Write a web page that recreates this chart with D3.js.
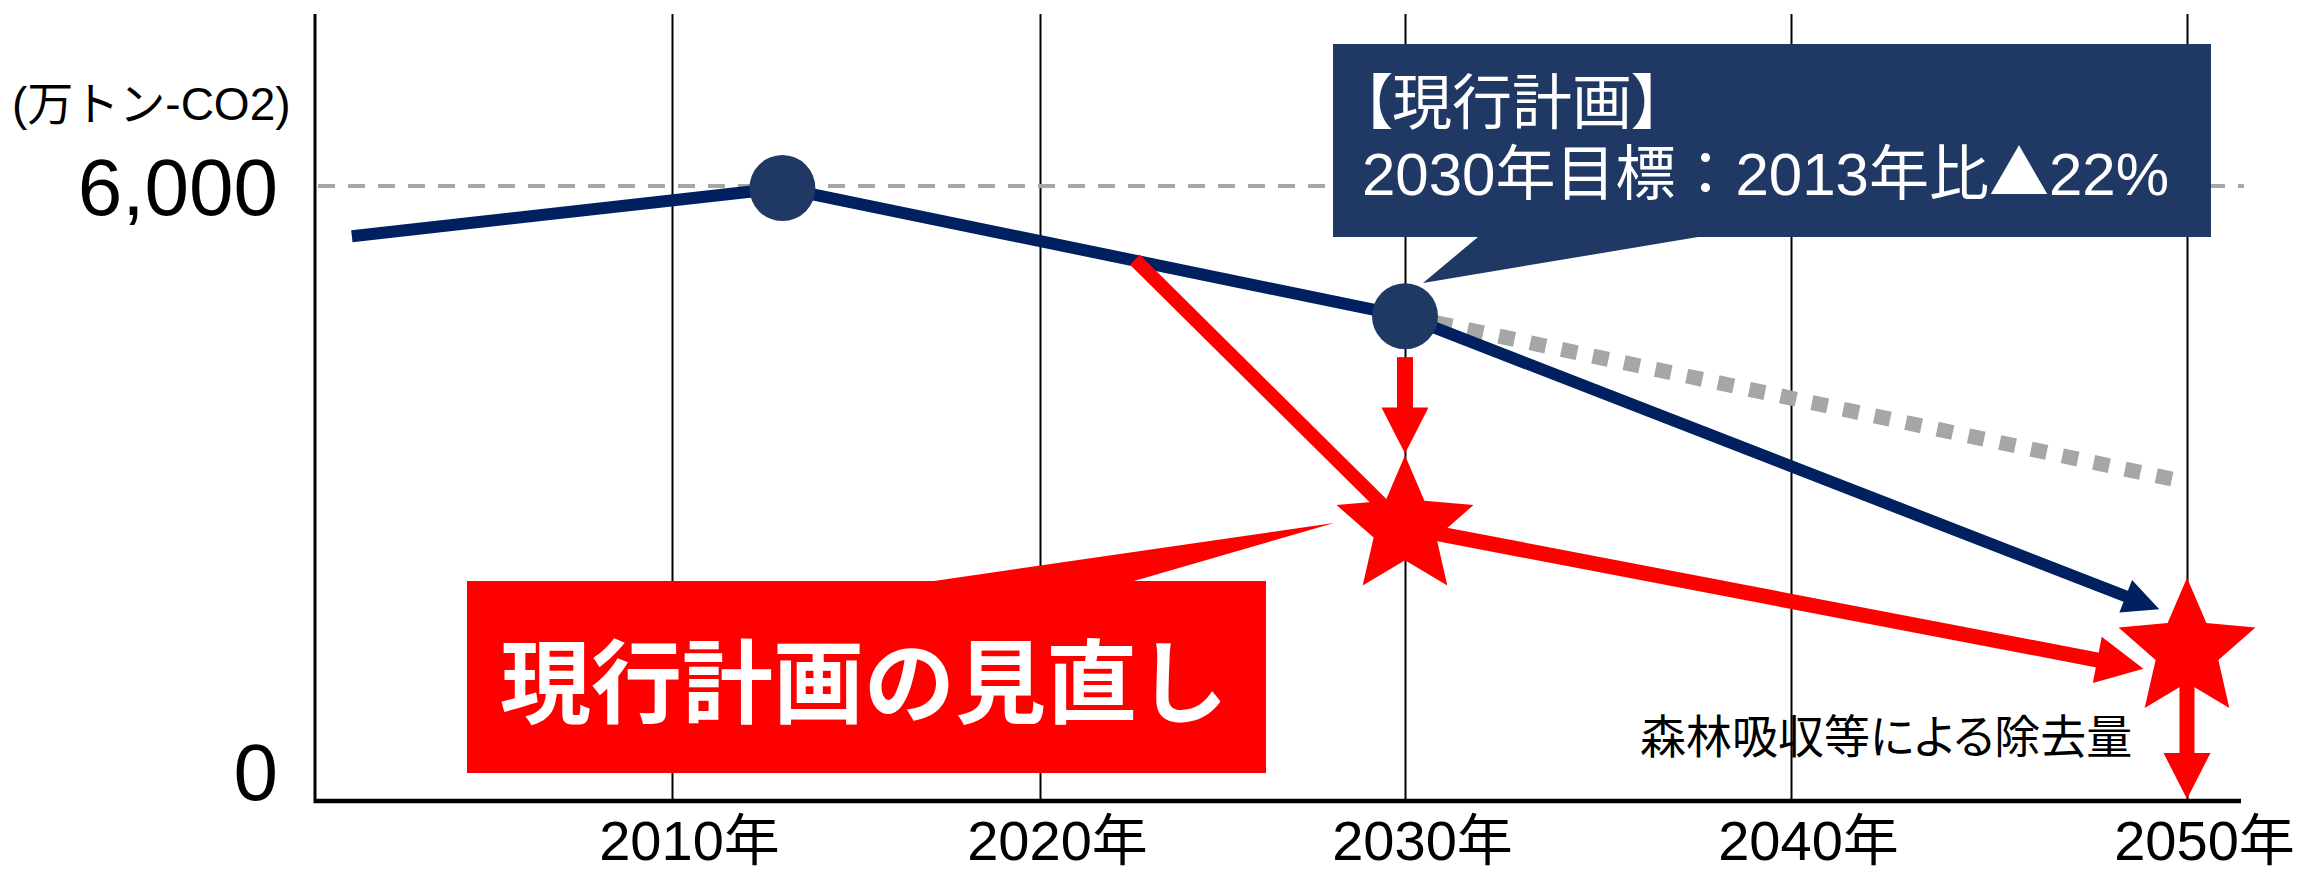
<!DOCTYPE html>
<html>
<head>
<meta charset="utf-8">
<script src="https://cdn.jsdelivr.net/npm/d3@7"></script>
<style>
  body { margin: 0; background: #fff; }
  text { font-family: "Liberation Sans", "Noto Sans CJK JP", sans-serif; }
</style>
</head>
<body>
<svg id="chart" width="2305" height="873"></svg>
<script>
/* global d3 */

// axis
var years = [2010, 2020, 2030, 2040, 2050]
var yTicks = [0, 6000]
var unitLabel = '(万トン-CO2)'

// current plan (navy line): start, 2013 peak, 2030 target, then arrow towards 2050
var planYears = [2001.3, 2013, 2030]
var planValues = [5510, 5980, 4730]
var planEnd = [2049.3, 1870]
var markerYears = [2013, 2030]

// old trend (grey dots) from the 2030 target
var trendYears = [2030, 2050]
var trendValues = [4730, 3110]

// revision (red)
var reviseStart = [2022.6, 5280]
var starYears = [2030, 2050]
var starValues = [2670, 1475]
var reviseEnd = [2048.9, 1290]
var dropArrow = [2030, 4330, 3390] // year, from, to
var sinkArrow = [2050, 1475, 0]

var planNote = ['【現行計画】', '2030年目標：2013年比▲22%']
var reviseNote = '現行計画の見直し'
var sinkNote = '森林吸収等による除去量'

var NAVY = '#002060'
var NAVY2 = '#203864'
var RED = '#ff0000'
var GREY = '#a6a6a6'

var svg = d3.select('#chart')

var plotTop = 14
var plotLeft = 315
var plotRight = 2241

var x = d3.scaleLinear().domain(years).range([672, 1040, 1405, 1791, 2187])
var y = d3.scaleLinear().domain([0, 6000]).range([801, 186])

/*
    --------------------------------------
    grid + axes
*/
var xAxis = svg.append('g')
  .attr('transform', `translate(0,${y(0)})`)
  .call(d3.axisBottom(x)
    .tickValues(years)
    .tickSize(-(y(0) - plotTop))
    .tickFormat(d => d + '年'))

xAxis.select('.domain').remove()
xAxis.selectAll('.tick line').attr('stroke', '#000').attr('stroke-width', 2)
xAxis.selectAll('.tick text')
  .attr('y', 59)
  .attr('dy', 0)
  .attr('x', 17)
  .attr('fill', '#000')
  .style('font-size', '56px')

var yAxis = svg.append('g')
  .attr('transform', `translate(${plotLeft},0)`)
  .call(d3.axisLeft(y)
    .tickValues(yTicks)
    .tickSize(0)
    .tickPadding(37)
    .tickFormat(d3.format(',')))

yAxis.select('.domain').remove()
yAxis.selectAll('.tick text')
  .attr('fill', '#000')
  .style('font-size', '80px')
  .attr('dy', d => d === 0 ? '-0.02em' : '0.35em')

svg.append('line')
  .attr('x1', plotLeft).attr('x2', plotLeft)
  .attr('y1', plotTop).attr('y2', y(0) + 2)
  .attr('stroke', '#000').attr('stroke-width', 3)

svg.append('line')
  .attr('x1', plotLeft - 1).attr('x2', plotRight)
  .attr('y1', y(0)).attr('y2', y(0))
  .attr('stroke', '#000').attr('stroke-width', 4.5)

svg.append('text')
  .attr('x', 12).attr('y', 120)
  .style('font-size', '46px')
  .text(unitLabel)

svg.append('text')
  .attr('x', 1640).attr('y', 753)
  .style('font-size', '46px')
  .style('font-feature-settings', '"palt"')
  .text(sinkNote)

// 6,000 reference line
svg.append('line')
  .attr('x1', plotLeft + 3).attr('x2', 2244)
  .attr('y1', y(yTicks[1])).attr('y2', y(yTicks[1]))
  .attr('stroke', GREY).attr('stroke-width', 4)
  .attr('stroke-dasharray', '17 13')

/*
    --------------------------------------
    helpers
*/
function arrow (p0, p1, o) {
  var dx = p1[0] - p0[0]
  var dy = p1[1] - p0[1]
  var len = Math.hypot(dx, dy)
  var ux = dx / len
  var uy = dy / len
  var bx = p1[0] - ux * o.head
  var by = p1[1] - uy * o.head
  svg.append('line')
    .attr('x1', p0[0]).attr('y1', p0[1])
    .attr('x2', bx + ux * 2).attr('y2', by + uy * 2)
    .attr('stroke', o.color).attr('stroke-width', o.width)
  svg.append('path')
    .attr('d', 'M' + p1 +
      'L' + [bx - uy * o.hw / 2, by + ux * o.hw / 2] +
      'L' + [bx + uy * o.hw / 2, by - ux * o.hw / 2] + 'Z')
    .attr('fill', o.color)
}

var pt = (yr, v) => [x(yr), y(v)]

/*
    --------------------------------------
    lines
*/
var line = d3.line().x(d => x(d[0])).y(d => y(d[1]))

// grey trend
svg.append('path')
  .attr('d', line(d3.zip(trendYears, trendValues)))
  .attr('fill', 'none')
  .attr('stroke', GREY).attr('stroke-width', 15)
  .attr('stroke-dasharray', '16 16')

// navy plan line
svg.append('path')
  .attr('d', line(d3.zip(planYears, planValues)))
  .attr('fill', 'none')
  .attr('stroke', NAVY).attr('stroke-width', 12)
  .attr('stroke-linejoin', 'round')

arrow(pt(planYears[2], planValues[2]), pt(planEnd[0], planEnd[1]),
  {color: NAVY, width: 12, head: 36, hw: 35})

// red revision
svg.append('line')
  .attr('x1', x(reviseStart[0])).attr('y1', y(reviseStart[1]))
  .attr('x2', x(starYears[0])).attr('y2', y(starValues[0]))
  .attr('stroke', RED).attr('stroke-width', 14)

arrow(pt(starYears[0], starValues[0]), pt(reviseEnd[0], reviseEnd[1]),
  {color: RED, width: 15, head: 47, hw: 47})

arrow(pt(dropArrow[0], dropArrow[1]), pt(dropArrow[0], dropArrow[2]),
  {color: RED, width: 16, head: 46, hw: 47})

arrow(pt(sinkArrow[0], sinkArrow[1]), [x(sinkArrow[0]), y(sinkArrow[2]) - 2],
  {color: RED, width: 15, head: 46, hw: 47})

// stars
var star = d3.lineRadial().curve(d3.curveLinearClosed)
var starPts = d3.range(10).map(i => [i * Math.PI / 5, i % 2 ? 33 : 72])

svg.selectAll('.star')
  .data(d3.zip(starYears, starValues))
  .join('path')
  .attr('class', 'star')
  .attr('transform', d => `translate(${x(d[0])},${y(d[1])})`)
  .attr('d', star(starPts))
  .attr('fill', RED)

// markers
svg.selectAll('.dot')
  .data(markerYears)
  .join('circle')
  .attr('class', 'dot')
  .attr('cx', d => x(d))
  .attr('cy', d => y(planValues[planYears.indexOf(d)]))
  .attr('r', 33)
  .attr('fill', NAVY2)

/*
    --------------------------------------
    callouts
*/
svg.append('path')
  .attr('d', 'M1333,44H2211V237H1698L1423,283L1478,237H1333Z')
  .attr('fill', NAVY2)

var notes = svg.selectAll('.planNote')
  .data(planNote)
  .join('text')
  .attr('class', 'planNote')
  .attr('x', 1362)
  .attr('y', (d, i) => 124 + i * 71)
  .attr('fill', '#fff')
  .style('font-size', '60px')
  .style('font-feature-settings', (d, i) => i === 0 ? '"palt"' : 'normal')

// the triangle mark is taken from the CJK font so it has full size
notes.selectAll('tspan')
  .data(d => d.split(/(▲)/).filter(s => s.length))
  .join('tspan')
  .style('font-family', s => s === '▲' ? '"Noto Sans CJK JP", sans-serif' : null)
  .text(s => s)

svg.append('path')
  .attr('d', 'M467,581H934L1334,523L1134,581H1266V773H467Z')
  .attr('fill', RED)

svg.append('text')
  .attr('x', 864).attr('y', 716)
  .attr('text-anchor', 'middle')
  .attr('fill', '#fff')
  .style('font-family', '"Noto Sans CJK JP", sans-serif')
  .style('font-weight', 700)
  .style('font-size', '91px')
  .text(reviseNote)
</script>
</body>
</html>
